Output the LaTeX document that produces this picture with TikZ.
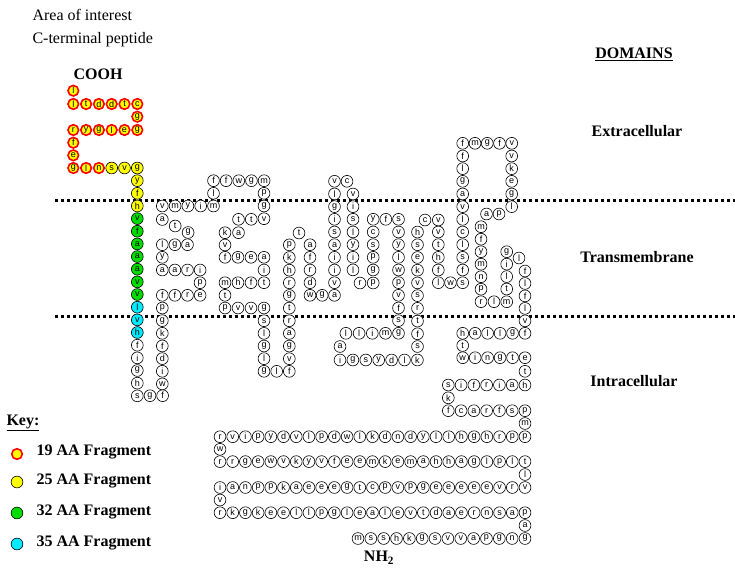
\documentclass[tikz,border=0pt]{standalone}
\usepackage{fontspec}
\setmainfont{Liberation Serif}
\newfontfamily\resfont{Liberation Sans}
\definecolor{gr}{RGB}{0,220,0}
\definecolor{cy}{RGB}{0,235,255}
\definecolor{yl}{RGB}{255,255,0}
\tikzset{res/.style={circle,draw,line width=0.6pt,minimum size=11.8pt,inner sep=0pt,font=\resfont\fontsize{9}{9}\selectfont,fill=white},
 rd/.style={fill=yl,draw=red,line width=1.6pt,minimum size=10.6pt},
 ye/.style={fill=yl},
 gn/.style={fill=gr},
 cn/.style={fill=cy},
 wh/.style={},
 memb/.style={line width=3pt,dash pattern=on 3pt off 3pt},
 lab/.style={font=\bfseries\fontsize{16}{16}\selectfont}}
\newcommand\rs[6]{\foreach \rl [count=\ri from 0] in {#5} {\node[res,#6] at ({#1+\ri*(#3)},{#2+\ri*(#4)}) {\rl};}}
\begin{document}
\begin{tikzpicture}[x=1pt,y=-1pt]
\useasboundingbox (0,0) rectangle (735,573);
\draw[memb] (55,200) -- (735,200);
\draw[memb] (55,316) -- (735,316);
% C-terminal
\rs{73.3}{90.7}{0}{0}{l}{rd}
\rs{73.3}{104}{12.8}{0}{l,t,d,d,t,c}{rd}
\rs{137.3}{116.7}{0}{0}{g}{rd}
\rs{73.3}{130}{12.8}{0}{r,y,g,l,e,g}{rd}
\rs{73.3}{142.7}{0}{12.6}{f,e}{rd}
\rs{73.3}{168}{12.8}{0}{g,l,n}{rd}
\rs{111.7}{168}{12.8}{0}{s,v,g}{ye}
\rs{137.3}{180.65}{0}{12.65}{y,f,h}{ye}
\rs{137.3}{218.6}{0}{12.65}{v,f,a,a,a,v,v}{gn}
\rs{137.3}{307.2}{0}{12.65}{l,v,h}{cn}
\rs{137.3}{345.2}{0}{12.65}{f,i,g,h,s}{wh}
\rs{150}{395.7}{12.6}{0}{g,f}{wh}
\rs{162.3}{308}{0}{12.65}{p,g,k,f,d,i,w}{wh}
\rs{162.3}{295.3}{12.6}{0}{f,f,r,e}{wh}
\rs{200}{282.7}{0}{0}{p}{wh}
\rs{162.3}{270}{12.6}{0}{a,a,r,i}{wh}
\rs{162.3}{257.3}{0}{0}{y}{wh}
\rs{162.3}{244.7}{12.6}{0}{l,g,a}{wh}
\rs{162.3}{219.5}{12.9}{6.5}{a,t,g}{wh}
\rs{162.3}{206}{12.8}{0}{v,m,y,i,m}{wh}
\rs{213.5}{193.3}{0}{0}{l}{wh}
\rs{213.5}{180.7}{12.65}{0}{f,f,w,g,m}{wh}
\rs{264}{193.3}{0}{12.7}{p,g,v}{wh}
\rs{238.5}{219.3}{12.75}{0}{t,t}{wh}
\rs{225}{232.7}{13.5}{0}{k,a}{wh}
\rs{225}{245}{0}{0}{v}{wh}
\rs{225}{257.3}{13}{0}{f,g,e,a}{wh}
\rs{264}{270}{0}{0}{i}{wh}
\rs{225}{282.7}{13}{0}{m,h,f,t}{wh}
\rs{225}{295.3}{0}{0}{t}{wh}
\rs{225}{308}{13}{0}{p,v,v,g}{wh}
\rs{264}{320.7}{0}{12.65}{s,l,g,l,g}{wh}
\rs{276.7}{371.3}{12.6}{0}{l,f}{wh}
\rs{289.3}{358.7}{0}{-12.65}{v,g,a,r,t,g,r,h,k,p}{wh}
\rs{299}{233}{0}{0}{t}{wh}
\rs{310}{244.7}{0}{12.65}{a,f,r,d,w}{wh}
\rs{322.2}{295.3}{12.3}{0}{g,a}{wh}
\rs{334.5}{282.7}{0}{-12.68}{v,i,i,a,s,i,g,l,v}{wh}
\rs{347}{181.3}{0}{0}{c}{wh}
\rs{353}{194}{0}{12.65}{v,i,s,l,y,i,l}{wh}
\rs{360}{283}{13.2}{0}{r,p}{wh}
\rs{373.2}{270}{0}{-12.68}{g,p,s,c,y}{wh}
\rs{385.8}{219.3}{12.7}{0}{f,s}{wh}
\rs{398.5}{232}{0}{12.66}{v,y,l,w,p,v,f,s,g}{wh}
\rs{385.5}{333.3}{-13.2}{0}{m,i,l,l}{wh}
\rs{340}{346.5}{0}{0}{a}{wh}
\rs{340}{360}{12.9}{0}{i,g,s,y,d,l,k}{wh}
\rs{417.5}{346.5}{0}{-12.72}{s,f,t,r,s,v,k,e,s,h}{wh}
\rs{425}{220}{13.3}{0}{c,v}{wh}
\rs{438.3}{232}{0}{12.67}{v,t,h,f}{wh}
\rs{438.3}{282.7}{12.2}{0}{l,w,s}{wh}
\rs{462.7}{270}{0}{-12.67}{f,s,l,c,l,v,a,g,l,f,f}{wh}
\rs{475}{143.3}{12.25}{0}{m,g,f,v}{wh}
\rs{511.7}{156}{0}{12.67}{v,k,e,g,l}{wh}
\rs{486.5}{214}{12.5}{0}{a,p}{wh}
\rs{481}{226.7}{0}{12.5}{m,f,y,m,n,p,r}{wh}
\rs{494}{301.7}{12.7}{0}{l,m}{wh}
\rs{506.7}{289}{0}{-12.43}{t,l,i,g}{wh}
\rs{519}{258}{0}{0}{l}{wh}
\rs{525}{271}{0}{12.46}{f,l,f,l,v,f}{wh}
\rs{462.7}{333.3}{12.46}{0}{h,a,l,l,g}{wh}
\rs{462.7}{345.5}{0}{0}{t}{wh}
\rs{462.7}{357.7}{12.46}{0}{w,i,n,g,t,e}{wh}
\rs{525}{371.3}{0}{0}{t}{wh}
\rs{448.3}{385}{12.78}{0}{s,i,f,r,i,a,h}{wh}
\rs{448.3}{397.8}{0}{0}{k}{wh}
\rs{448.3}{410.7}{12.78}{0}{f,c,a,r,f,s,p}{wh}
\rs{525}{423.5}{0}{0}{m}{wh}
\rs{220}{436.7}{12.708}{0}{r,v,i,p,y,d,v,l,p,d,w,l,k,d,n,d,y,l,l,h,g,h,r,p,p}{wh}
\rs{220}{449.3}{0}{0}{w}{wh}
\rs{220}{461.6}{12.708}{0}{r,r,g,e,w,v,k,y,v,f,e,e,m,k,e,m,a,h,h,a,g,l,p,l,t}{wh}
\rs{525}{474.5}{0}{0}{l}{wh}
\rs{220}{487.5}{12.708}{0}{i,a,n,p,p,k,a,e,e,e,g,t,c,p,v,p,g,e,e,e,e,e,v,r,v}{wh}
\rs{220}{500}{0}{0}{v}{wh}
\rs{220}{512.7}{12.708}{0}{r,k,g,k,e,e,l,l,p,g,l,e,a,l,e,v,t,d,a,e,r,n,s,a,p}{wh}
\rs{525}{525.5}{0}{0}{a}{wh}
\rs{358}{538.5}{12.846}{0}{m,s,s,h,k,g,s,v,v,a,p,g,n,g}{wh}
% texts
\node[anchor=west,font=\fontsize{16}{16}\selectfont] (t1) at (29,15) {Area of interest};
\node[anchor=west,font=\fontsize{16}{16}\selectfont] (t2) at (29,40) {C-terminal peptide};
\node[lab] (cooh) at (98,74) {COOH};
\node[lab] (nh2) at (379,558) {NH$_\mathbf{2}$};
\node[lab] (dom) at (634,54) {\underline{DOMAINS}};
\node[lab] (ex) at (637,131) {Extracellular};
\node[lab] (tm) at (637,257) {Transmembrane};
\node[lab] (ic) at (634,381) {Intracellular};
\node[lab,anchor=west] (key) at (3,423) {\underline{Key:}};
\node[res,rd] (k1) at (17,454) {};
\node[res,ye] (k2) at (17,482) {};
\node[res,gn] (k3) at (17,513) {};
\node[res,cn] (k4) at (17,544) {};
\node[lab,anchor=west] at (33,452) {19 AA Fragment};
\node[lab,anchor=west] at (33,481) {25 AA Fragment};
\node[lab,anchor=west] at (33,512) {32 AA Fragment};
\node[lab,anchor=west] at (33,543) {35 AA Fragment};
\end{tikzpicture}
\end{document}
